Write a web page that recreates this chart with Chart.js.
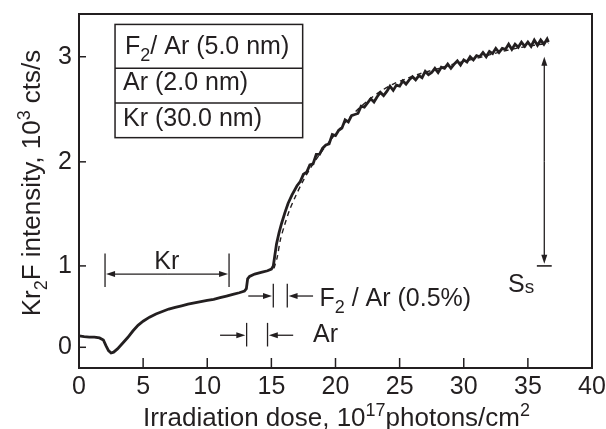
<!DOCTYPE html>
<html>
<head>
<meta charset="utf-8">
<script src="https://cdn.jsdelivr.net/npm/chart.js@4.4.1/dist/chart.umd.min.js"></script>
<style>
html, body { margin: 0; padding: 0; background: #fff; }
</style>
</head>
<body>
<canvas id="myChart" width="606" height="429"></canvas>
<script>
// measured Kr2F signal vs dose (10^17 photons/cm^2), in 10^3 cts/s
const doseMeasured = [0, 0.4, 0.8, 1.2, 1.6, 1.9, 2.1, 2.3, 2.5, 2.7, 3.0, 3.4, 3.8, 4.2, 4.6, 5.0, 5.5, 6.0, 6.5, 7.0,
  7.5, 8.0, 8.5, 9.0, 9.5, 10.0, 10.5, 11.0, 11.5, 12.0, 12.5, 12.9, 13.05, 13.15, 13.3, 13.7, 14.2, 14.7, 15.0, 15.15,
  15.4, 15.6, 15.8, 16.05, 16.3, 16.6,
  17.0, 17.25, 17.5, 17.75, 18.0, 18.25, 18.5, 18.75, 19.0, 19.25, 19.5, 19.75, 20.0, 20.25, 20.5, 20.75,
  21.0, 21.25, 21.5, 21.75, 22.0, 22.25, 22.5, 22.75, 23.0, 23.25, 23.5, 23.75, 24.0, 24.25, 24.5, 24.75,
  25.0, 25.25, 25.5, 25.75, 26.0, 26.25, 26.5, 26.75, 27.0, 27.25, 27.5, 27.75, 28.0, 28.25, 28.5, 28.75,
  29.0, 29.25, 29.5, 29.75, 30.0, 30.25, 30.5, 30.75, 31.0, 31.25, 31.5, 31.75, 32.0, 32.25, 32.5, 32.75,
  33.0, 33.25, 33.5, 33.75, 34.0, 34.25, 34.5, 34.75, 35.0, 35.25, 35.5, 35.75, 36.0, 36.25, 36.5, 36.6];
const signalMeasured = [0.14, 0.13, 0.125, 0.125, 0.115, 0.09, 0.02, -0.04, -0.07, -0.06, -0.02, 0.05, 0.12, 0.2, 0.27, 0.32, 0.37, 0.41, 0.44, 0.47,
  0.49, 0.51, 0.53, 0.545, 0.56, 0.575, 0.59, 0.61, 0.63, 0.65, 0.67, 0.69, 0.72, 0.84, 0.87, 0.9, 0.92, 0.94, 0.96, 1.0,
  1.21, 1.32, 1.41, 1.51, 1.6, 1.68,
  1.77, 1.81, 1.88, 1.9, 1.97, 1.98, 2.07, 2.07, 2.13, 2.16, 2.17, 2.26, 2.25, 2.3, 2.32, 2.4,
  2.38, 2.44, 2.45, 2.46, 2.53, 2.52, 2.56, 2.6, 2.57, 2.62, 2.66, 2.63, 2.67, 2.72, 2.68, 2.73,
  2.72, 2.77, 2.74, 2.78, 2.81, 2.78, 2.82, 2.8, 2.86, 2.83, 2.85, 2.89, 2.85, 2.9, 2.89, 2.93,
  2.89, 2.93, 2.96, 2.92, 2.97, 2.95, 3.0, 2.97, 3.01, 3.0, 3.04, 3.0, 3.05, 3.03, 3.08, 3.04,
  3.08, 3.07, 3.12, 3.07, 3.12, 3.09, 3.14, 3.1, 3.14, 3.1, 3.16, 3.11, 3.16, 3.12, 3.17, 3.14];

// fitted curve (dashed)
const doseFit = [15.2, 15.45, 15.7, 16.0, 16.4, 16.85, 17.4, 18.0, 18.7, 19.5, 20.5, 21.5, 22.5, 23.5, 24.5, 25.5,
  26.5, 27.5, 28.5, 29.5, 30.5, 31.5, 32.5, 33.5, 34.5, 35.5, 36.6];
const signalFit = [0.97, 1.08, 1.25, 1.38, 1.53, 1.66, 1.8, 1.93, 2.06, 2.19, 2.34, 2.47, 2.58, 2.67, 2.74, 2.79,
  2.835, 2.87, 2.905, 2.94, 2.97, 3.0, 3.035, 3.065, 3.09, 3.11, 3.13];

const xTicks = [0, 5, 10, 15, 20, 25, 30, 35, 40];
const yTicks = [0, 1, 2, 3];

// the printed y axis is not evenly spaced: values at the knots and where they sit (0 = bottom, 1 = top)
const yKnots = [-0.255, 0, 1, 2, 3, 3.41];
const yKnotPos = [0, 0.0585, 0.2884, 0.5824, 0.8793, 1];

const ink = '#231f20';
const fam = '"Liberation Sans", Arial, Helvetica, sans-serif';

function interp(v, from, to) {
  let i = 0;
  while (i < from.length - 2 && v > from[i + 1]) i++;
  const t = (v - from[i]) / (from[i + 1] - from[i]);
  return to[i] + t * (to[i + 1] - to[i]);
}

class KnotScale extends Chart.LinearScale {
  getPixelForValue(value) {
    if (value === null || isNaN(value)) return NaN;
    return this.getPixelForDecimal(interp(value, yKnots, yKnotPos));
  }
  getValueForPixel(pixel) {
    return interp(this.getDecimalForPixel(pixel), yKnotPos, yKnots);
  }
}
KnotScale.id = 'knot';
KnotScale.defaults = Chart.LinearScale.defaults;
Chart.register(KnotScale);

function richWidth(ctx, parts) {
  let w = 0;
  parts.forEach(p => {
    ctx.font = (p.size || 25) + 'px ' + fam;
    w += ctx.measureText(p.t).width;
  });
  return w;
}

function rich(ctx, x, y, parts) {
  parts.forEach(p => {
    ctx.font = (p.size || 25) + 'px ' + fam;
    ctx.fillText(p.t, x, y + (p.dy || 0));
    x += ctx.measureText(p.t).width;
  });
}

function line(ctx, x1, y1, x2, y2) {
  ctx.beginPath();
  ctx.moveTo(x1, y1);
  ctx.lineTo(x2, y2);
  ctx.stroke();
}

// arrow from (x1,y1) with a filled head at (x2,y2)
function arrow(ctx, x1, y1, x2, y2) {
  const a = Math.atan2(y2 - y1, x2 - x1);
  const len = 9, half = 3;
  line(ctx, x1, y1, x2 - Math.cos(a) * len * 0.8, y2 - Math.sin(a) * len * 0.8);
  ctx.beginPath();
  ctx.moveTo(x2, y2);
  ctx.lineTo(x2 - Math.cos(a) * len - Math.sin(a) * half, y2 - Math.sin(a) * len + Math.cos(a) * half);
  ctx.lineTo(x2 - Math.cos(a) * len + Math.sin(a) * half, y2 - Math.sin(a) * len - Math.cos(a) * half);
  ctx.closePath();
  ctx.fill();
}

const xTitle = [{t: 'Irradiation dose, 10', size: 26}, {t: '17', size: 18, dy: -10}, {t: 'photons/cm', size: 26}, {t: '2', size: 18, dy: -10}];
const yTitle = [{t: 'Kr', size: 26}, {t: '2', size: 18, dy: 7}, {t: 'F intensity, 10', size: 26}, {t: '3', size: 18, dy: -10}, {t: ' cts/s', size: 26}];

const extras = {
  id: 'extras',
  afterDraw(chart) {
    const ctx = chart.ctx;
    const a = chart.chartArea;
    const xs = chart.scales.x, ys = chart.scales.y;
    const X = v => xs.getPixelForValue(v);
    const Y = v => ys.getPixelForValue(v);
    ctx.save();
    ctx.strokeStyle = ink;
    ctx.fillStyle = ink;
    ctx.textBaseline = 'alphabetic';
    ctx.textAlign = 'left';

    // frame and inward ticks
    ctx.lineWidth = 2;
    ctx.strokeRect(a.left, a.top, a.right - a.left, a.bottom - a.top);
    ctx.lineWidth = 1.5;
    xs.ticks.forEach(t => {
      if (t.value <= xs.min || t.value >= xs.max) return;
      const p = X(t.value);
      line(ctx, p, a.bottom, p, a.bottom - 10);
    });
    ys.ticks.forEach(t => {
      const p = Y(t.value);
      line(ctx, a.left, p, a.left + 7, p);
    });

    // axis titles
    const xw = richWidth(ctx, xTitle);
    rich(ctx, (a.left + a.right) / 2 - xw / 2 + 1, 426, xTitle);
    const yw = richWidth(ctx, yTitle);
    ctx.save();
    ctx.translate(40, (a.top + a.bottom) / 2 - 8);
    ctx.rotate(-Math.PI / 2);
    rich(ctx, -yw / 2, 0, yTitle);
    ctx.restore();

    // sample stack table
    ctx.lineWidth = 1.5;
    const bl = X(2.81), br = X(17.44);
    ctx.strokeRect(bl, Y(3.31), br - bl, Y(2.23) - Y(3.31));
    line(ctx, bl, Y(2.89), br, Y(2.89));
    line(ctx, bl, Y(2.56), br, Y(2.56));
    rich(ctx, bl + 10, Y(3.03), [{t: 'F'}, {t: '2', size: 18, dy: 7}, {t: '/ Ar (5.0 nm)'}]);
    rich(ctx, bl + 8, Y(2.68), [{t: 'Ar (2.0 nm)'}]);
    rich(ctx, bl + 8, Y(2.34), [{t: 'Kr (30.0 nm)'}]);

    ctx.lineWidth = 1.3;
    // Kr range
    line(ctx, X(2.03), Y(1.12), X(2.03), Y(0.74));
    line(ctx, X(11.7), Y(1.12), X(11.7), Y(0.74));
    const mid = (X(2.03) + X(11.7)) / 2;
    arrow(ctx, mid, Y(0.9), X(2.03) + 1, Y(0.9));
    arrow(ctx, mid, Y(0.9), X(11.7) - 1, Y(0.9));
    ctx.font = '25px ' + fam;
    ctx.textAlign = 'center';
    ctx.fillText('Kr', X(6.85), Y(0.956));
    ctx.textAlign = 'left';

    // F2 / Ar (0.5%) range
    line(ctx, X(15.15), Y(0.78), X(15.15), Y(0.49));
    line(ctx, X(16.24), Y(0.78), X(16.24), Y(0.49));
    arrow(ctx, X(13.2), Y(0.63), X(15.05), Y(0.63));
    arrow(ctx, X(18.25), Y(0.63), X(16.34), Y(0.63));
    rich(ctx, X(18.75), Y(0.504), [{t: 'F'}, {t: '2', size: 18, dy: 7}, {t: ' / Ar (0.5%)'}]);

    // Ar range
    line(ctx, X(13.07), Y(0.3), X(13.07), Y(0.01));
    line(ctx, X(14.7), Y(0.3), X(14.7), Y(0.01));
    arrow(ctx, X(11.0), Y(0.148), X(12.97), Y(0.148));
    arrow(ctx, X(16.7), Y(0.148), X(14.8), Y(0.148));
    rich(ctx, X(18.25), Y(0.065), [{t: 'Ar'}]);

    // saturation signal S_s
    arrow(ctx, X(36.28), (Y(3.0) + Y(1.0)) / 2, X(36.28), Y(3.0));
    arrow(ctx, X(36.28), (Y(3.0) + Y(1.0)) / 2, X(36.28), Y(1.02));
    ctx.lineWidth = 1.6;
    line(ctx, X(35.7), Y(1.0), X(36.86), Y(1.0));
    rich(ctx, X(33.45), Y(0.68), [{t: 'S'}, {t: 's', size: 19, dy: 1}]);

    ctx.restore();
  }
};

const ctx = document.getElementById('myChart').getContext('2d');
const myChart = new Chart(ctx, {
  type: 'line',
  data: {
    datasets: [{
      label: 'measured',
      data: doseMeasured.map((x, i) => ({x: x, y: signalMeasured[i]})),
      borderColor: ink,
      borderWidth: 2.8,
      pointRadius: 0,
      fill: false,
      tension: 0
    }, {
      label: 'fit',
      data: doseFit.map((x, i) => ({x: x, y: signalFit[i]})),
      borderColor: ink,
      borderWidth: 1.4,
      borderDash: [5, 4],
      pointRadius: 0,
      fill: false,
      tension: 0.3
    }]
  },
  options: {
    responsive: false,
    animation: false,
    devicePixelRatio: 1,
    layout: { padding: { top: 14, right: 14, left: 0, bottom: 0 } },
    plugins: { legend: { display: false }, tooltip: { enabled: false } },
    scales: {
      x: {
        type: 'linear',
        min: 0,
        max: 40,
        afterBuildTicks: s => { s.ticks = xTicks.map(v => ({value: v})); },
        afterFit: s => { s.height = 61; s.paddingLeft = 0; s.paddingRight = 0; },
        grid: { display: false, drawTicks: false },
        border: { display: false },
        ticks: { color: ink, padding: 4, maxRotation: 0, autoSkip: false, font: { family: fam, size: 25 } }
      },
      y: {
        type: 'knot',
        min: -0.255,
        max: 3.41,
        afterBuildTicks: s => { s.ticks = yTicks.map(v => ({value: v})); },
        afterFit: s => { s.width = 79; s.paddingTop = 0; s.paddingBottom = 0; },
        grid: { display: false, drawTicks: false },
        border: { display: false },
        ticks: { color: ink, padding: 7, font: { family: fam, size: 25 } }
      }
    }
  },
  plugins: [extras]
});
</script>
</body>
</html>
